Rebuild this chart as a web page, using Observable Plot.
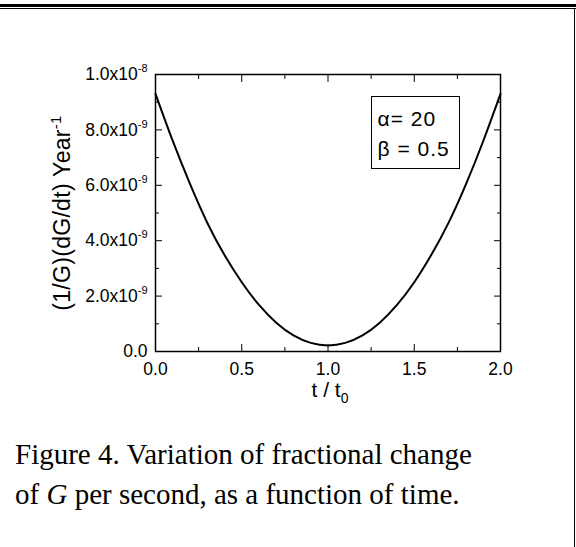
<!DOCTYPE html>
<html><head><meta charset="utf-8">
<script src="https://cdn.jsdelivr.net/npm/d3@7"></script>
<script src="https://cdn.jsdelivr.net/npm/@observablehq/plot@0.6"></script>
<style>
html,body{margin:0;padding:0;background:#fff;}
#page{position:relative;width:576px;height:547px;overflow:hidden;background:#fff;}
.rule-thick{position:absolute;left:0;top:4px;width:576px;height:3px;background:#000;}
.rule-thin{position:absolute;left:0;top:8px;width:576px;height:1px;background:#000;}
.rule-right{position:absolute;left:573.5px;top:8px;width:1.5px;height:539px;background:#000;}
#chart{position:absolute;left:0;top:0;}
#caption{position:absolute;left:15px;top:434px;font-family:"Liberation Serif","Times New Roman",serif;font-size:29px;line-height:40px;color:#000;white-space:nowrap;}
</style></head>
<body>
<div id="page">
  <div class="rule-thick"></div>
  <div class="rule-thin"></div>
  <div class="rule-right"></div>
  <div id="chart"></div>
  <div id="caption"></div>
</div>
<script>
// ---- data ----
const tValues = [0, 0.1, 0.2, 0.3, 0.4, 0.5, 0.6, 0.7, 0.8, 0.9, 1.0, 1.1, 1.2, 1.3, 1.4, 1.5, 1.6, 1.7, 1.8, 1.9, 2.0];
const rateValues = [9.30e-9, 7.60e-9, 6.05e-9, 4.65e-9, 3.48e-9, 2.50e-9, 1.68e-9, 1.04e-9, 0.58e-9, 0.31e-9, 0.22e-9,
                    0.31e-9, 0.58e-9, 1.04e-9, 1.68e-9, 2.50e-9, 3.50e-9, 4.66e-9, 6.04e-9, 7.60e-9, 9.30e-9];
const xMajor = [0, 0.5, 1.0, 1.5, 2.0];
const xMinor = [0.25, 0.75, 1.25, 1.75];
const xTickLabels = ["0.0", "0.5", "1.0", "1.5", "2.0"];
const yMajor = [0, 2e-9, 4e-9, 6e-9, 8e-9, 1e-8];
const yMinor = [1e-9, 3e-9, 5e-9, 7e-9, 9e-9];
const yTickLabels = ["0.0", "2.0x10^-9", "4.0x10^-9", "6.0x10^-9", "8.0x10^-9", "1.0x10^-8"];
const legendLines = ["α= 20", "β = 0.5"];
const xTitle = "t / t_0";
const yTitle = "(1/G)(dG/dt) Year^-1";
const captionLine1 = "Figure 4. Variation of fractional change";
const captionLine2 = ["of ", "G", " per second, as a function of time."];

const data = tValues.map((t, i) => ({t, r: rateValues[i]}));
const ink = "#000";

const chart = Plot.plot({
  width: 576,
  height: 420,
  marginLeft: 155,
  marginRight: 76,
  marginTop: 74,
  marginBottom: 69,
  style: {fontFamily: "'Liberation Sans', Arial, sans-serif", fontSize: "17.5px", color: ink, background: "transparent", overflow: "visible"},
  x: {domain: [0, 2], label: null},
  y: {domain: [0, 1e-8], label: null},
  marks: [
    // inward ticks on all four sides
    Plot.axisX({anchor: "bottom", ticks: xMajor, tickSize: -7, fill: "none", label: null}),
    Plot.axisX({anchor: "bottom", ticks: xMinor, tickSize: -4, fill: "none", label: null}),
    Plot.axisX({anchor: "top", ticks: xMajor, tickSize: -7, fill: "none", label: null}),
    Plot.axisX({anchor: "top", ticks: xMinor, tickSize: -4, fill: "none", label: null}),
    Plot.axisY({anchor: "left", ticks: yMajor, tickSize: -7, fill: "none", label: null}),
    Plot.axisY({anchor: "left", ticks: yMinor, tickSize: -4, fill: "none", label: null}),
    Plot.axisY({anchor: "right", ticks: yMajor, tickSize: -7, fill: "none", label: null}),
    Plot.axisY({anchor: "right", ticks: yMinor, tickSize: -4, fill: "none", label: null}),
    // tick labels
    Plot.axisX({anchor: "bottom", ticks: xMajor, tickSize: 0, tickPadding: 11, label: null,
      tickFormat: d => xTickLabels[xMajor.indexOf(d)]}),
    Plot.axisY({anchor: "left", ticks: yMajor, tickSize: 0, tickPadding: 8, label: null,
      tickFormat: d => yTickLabels[yMajor.indexOf(d)]}),
    Plot.frame({stroke: ink, strokeWidth: 1.5}),
    // curve
    Plot.line(data, {x: "t", y: "r", curve: "natural", stroke: ink, strokeWidth: 2}),
    // legend box
    Plot.frame({insetLeft: 216, insetRight: 41, insetTop: 22, insetBottom: 183, stroke: ink, strokeWidth: 1}),
    Plot.text([legendLines.join("\n")], {text: d => d, frameAnchor: "top-left", dx: 222, dy: 30,
      lineAnchor: "top", textAnchor: "start", lineHeight: 1.43, fontSize: 21, fill: ink}),
    // axis titles
    Plot.text([xTitle], {text: d => d, frameAnchor: "bottom", dx: 2, dy: 31, lineAnchor: "top",
      textAnchor: "middle", fontSize: 21, fill: ink}),
    Plot.text([yTitle], {text: d => d, frameAnchor: "left", dx: -93, rotate: -90,
      textAnchor: "middle", lineAnchor: "middle", fontSize: 23, fill: ink})
  ]
});
document.getElementById("chart").appendChild(chart);

// super/subscript markup -> tspans
function richify(el, supSize, shift) {
  const s = el.textContent;
  const m = s.match(/^(.*?)([\^_])(.*)$/);
  if (!m) return;
  const base = m[1], mode = m[2], script = m[3];
  d3.select(el).text(null);
  d3.select(el).append("tspan").text(base);
  d3.select(el).append("tspan")
    .attr("font-size", supSize)
    .attr("dy", mode === "^" ? -shift : shift)
    .text(script);
}
chart.querySelectorAll("text").forEach(el => {
  const s = el.textContent;
  if (s === yTitle) { el.setAttribute("letter-spacing", "0.3"); richify(el, 15, 9); }
  else if (s === xTitle) richify(el, 14, 6);
  else if (yTickLabels.includes(s)) richify(el, 11, 8);
  else if (s.startsWith(legendLines[0])) el.setAttribute("letter-spacing", "1");
});

// caption
const cap = d3.select("#caption");
cap.append("div").text(captionLine1);
const l2 = cap.append("div");
l2.append("span").text(captionLine2[0]);
l2.append("i").text(captionLine2[1]);
l2.append("span").text(captionLine2[2]);
</script>
</body></html>
